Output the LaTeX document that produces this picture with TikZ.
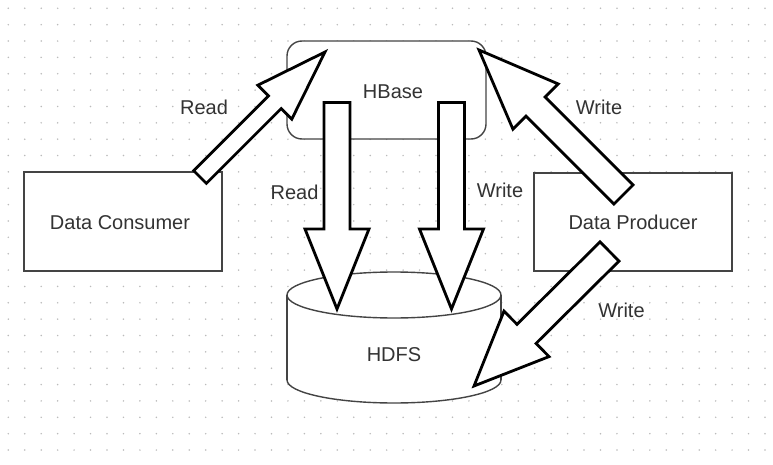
\documentclass[tikz,border=0pt]{standalone}
\usepackage{fontspec}
\setmainfont{Liberation Sans}
\usetikzlibrary{calc}
\definecolor{txt}{HTML}{333333}
\definecolor{boxline}{HTML}{444444}
\definecolor{griddot}{HTML}{BBBBBB}
\tikzset{
  boxshape/.style={draw=boxline, line width=1.4pt, fill=white},
  lbl/.style={font=\fontsize{20}{24}\selectfont, text=txt, inner sep=0pt},
  blockarrow/.style={draw=black, line width=2.8pt, fill=white, line join=miter},
}
\newcommand\blockarr[5]{% tail, tip, half shaft, half head, head length
  \coordinate (ba-n) at ($(#2)!#5!(#1)$);
  \draw[blockarrow]
    ($(#1)!#3!90:(#2)$) -- ($(ba-n)!#3!90:(#2)$) -- ($(ba-n)!#4!90:(#2)$) --
    (#2) --
    ($(ba-n)!#4!-90:(#2)$) -- ($(ba-n)!#3!-90:(#2)$) -- ($(#1)!#3!-90:(#2)$) -- cycle;
}
\begin{document}
\begin{tikzpicture}[x=1pt,y=-1pt]
\useasboundingbox (0,0) rectangle (773,465);
\fill[white] (0,0) rectangle (773,465);
% dot grid
\foreach \i in {0,...,46}{
  \foreach \j in {0,...,27}{
    \fill[griddot] ({8.3+16.45*\i},{8.3+16.36*\j}) circle[radius=0.85pt];
  }
}
% boxes
\draw[boxshape] (24,172) rectangle (222,271);
\node[lbl] (consumer) at (120,222.5) {Data Consumer};
\draw[boxshape, rounded corners=15pt] (287,41) rectangle (486,139);
\node[lbl] (hbase) at (393,91.5) {HBase};
\draw[boxshape] (534,173) rectangle (732,271);
\node[lbl] (producer) at (633,222.5) {Data Producer};
% HDFS cylinder
\fill[white] (287,295) rectangle (501,380);
\filldraw[boxshape] (394,380) ellipse[x radius=107pt, y radius=23pt];
\fill[white] (287,295) rectangle (501,380);
\draw[boxline, line width=1.4pt] (287,295) -- (287,380);
\draw[boxline, line width=1.4pt] (501,295) -- (501,380);
\filldraw[boxshape] (394,295) ellipse[x radius=107pt, y radius=23pt];
\node[lbl] (hdfs) at (394,354.5) {HDFS};
% arrow end points
\coordinate (r1t) at (200,177);
\coordinate (r1h) at (325,52);
\coordinate (r2t) at (337,102.5);
\coordinate (r2h) at (337,309);
\coordinate (w1t) at (451.5,102.5);
\coordinate (w1h) at (451.5,309);
\coordinate (w2t) at (623.5,194.5);
\coordinate (w2h) at (479,50);
\coordinate (w3t) at (609.5,251.5);
\coordinate (w3h) at (474,386);
\blockarr{r1t}{r1h}{9pt}{24pt}{71pt}
\blockarr{r2t}{r2h}{13pt}{32pt}{80pt}
\blockarr{w1t}{w1h}{13pt}{32pt}{80pt}
\blockarr{w2t}{w2h}{13.5pt}{32pt}{80pt}
\blockarr{w3t}{w3h}{13.5pt}{32pt}{74pt}
% labels
\node[lbl] (lread1) at (204,107.5) {Read};
\node[lbl] (lread2) at (294.5,192) {Read};
\node[lbl] (lwrite1) at (500,190) {Write};
\node[lbl] (lwrite2) at (599,107.5) {Write};
\node[lbl] (lwrite3) at (621.5,310.5) {Write};
\end{tikzpicture}
\end{document}
